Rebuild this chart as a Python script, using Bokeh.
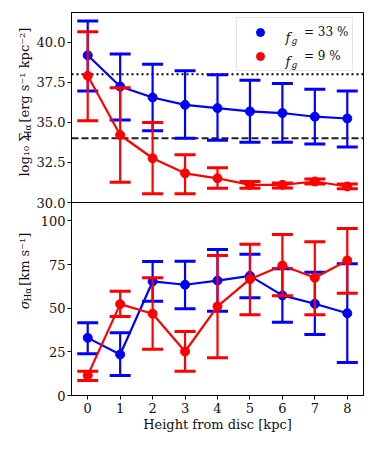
from math import pi
from bokeh.plotting import figure
from bokeh.layouts import row
from bokeh.core.properties import value
from bokeh.models import (Range1d, FixedTicker, Span, Legend, LegendItem, Label,
                          CustomJSTickFormatter)
from bokeh.embed import file_html
from bokeh.resources import INLINE

# ---------------- data ----------------
heights = [0, 1, 2, 3, 4, 5, 6, 7, 8]

# log10 Sigma_Halpha  (top panel)
sb_33 = [39.18, 37.23, 36.55, 36.09, 35.89, 35.68, 35.58, 35.35, 35.24]
sb_33_hi = [41.32, 39.26, 38.62, 38.21, 37.96, 37.63, 37.42, 37.07, 36.96]
sb_33_lo = [36.96, 35.14, 34.48, 34.00, 33.88, 33.75, 33.75, 33.65, 33.46]
sb_9 = [37.90, 34.21, 32.76, 31.82, 31.51, 31.10, 31.10, 31.31, 31.00]
sb_9_hi = [40.65, 37.15, 34.99, 32.98, 32.16, 31.31, 31.22, 31.47, 31.16]
sb_9_lo = [35.10, 31.26, 30.54, 30.54, 30.89, 30.89, 30.91, 31.16, 30.85]

# sigma_Halpha  (bottom panel)
sig_33 = [33.0, 23.5, 65.3, 63.4, 65.8, 68.5, 57.3, 52.5, 47.1]
sig_33_hi = [41.6, 35.9, 76.7, 76.9, 83.6, 80.9, 72.5, 70.6, 75.4]
sig_33_lo = [23.9, 11.5, 54.0, 49.6, 48.3, 55.9, 42.0, 34.9, 18.9]
sig_9 = [11.5, 52.3, 46.8, 25.2, 51.0, 66.6, 74.4, 67.4, 77.3]
sig_9_hi = [13.9, 59.7, 67.4, 36.6, 80.2, 86.6, 92.2, 88.0, 95.6]
sig_9_lo = [8.6, 45.2, 26.5, 13.9, 21.6, 46.2, 57.1, 46.2, 58.6]

sb_ticks = [30.0, 32.5, 35.0, 37.5, 40.0]
sig_ticks = [0, 25, 50, 75, 100]
ref_dashed = 34.0
ref_dotted = 38.0

labels = ["= 33 %", "= 9 %"]
colors = ["#0000ff", "#ff0000"]

# ---------------- geometry ----------------
H = 440
LAB_W = 33
W = 368 - LAB_W
FRAME_TOP = 12
FRAME_H = 383
BOT_PX = 193
frac_bot = BOT_PX / FRAME_H
bot_lim = (0.0, 110.5)
top_lim = (30.0, 41.85)
prim_end = bot_lim[1] / frac_bot
top_start = top_lim[0] - (top_lim[1] - top_lim[0]) * frac_bot / (1 - frac_bot)
scale = (prim_end - bot_lim[1]) / (top_lim[1] - top_lim[0])

FONT = "DejaVu Serif"
FS = "13px"
TXT = "#111111"

p = figure(width=W, height=H, output_backend="svg", toolbar_location=None, title=None,
           x_range=Range1d(-0.5, 8.5), y_range=Range1d(0, prim_end),
           min_border_left=69 - LAB_W, min_border_right=5, min_border_top=FRAME_TOP,
           min_border_bottom=H - FRAME_TOP - FRAME_H)
p.extra_y_ranges = {"top": Range1d(top_start, top_lim[1])}
p.xgrid.visible = False
p.ygrid.visible = False
p.outline_line_color = "black"
p.outline_line_width = 1
p.background_fill_color = "white"
p.border_fill_color = "white"

# divider between the two panels
p.add_layout(Span(location=bot_lim[1], dimension="width", line_color="black", line_width=1))

# reference lines in the top panel
p.add_layout(Span(location=ref_dotted, dimension="width", y_range_name="top",
                  line_color="black", line_width=2, line_dash="2 3", level="underlay"))
p.add_layout(Span(location=ref_dashed, dimension="width", y_range_name="top",
                  line_color="#222222", line_width=2, line_dash="7 3", level="underlay"))


def series(x, y, lo, hi, color, rng=None):
    kw = {} if rng is None else {"y_range_name": rng}
    p.segment(x0=x, y0=lo, x1=x, y1=hi, line_color=color, line_width=2.2, **kw)
    p.scatter(x, hi, marker="dash", size=21, line_color=color, line_width=3, **kw)
    p.scatter(x, lo, marker="dash", size=21, line_color=color, line_width=3, **kw)
    p.line(x, y, line_color=color, line_width=2.2, **kw)
    return p.scatter(x, y, marker="circle", size=9, fill_color=color, line_color=color, **kw)


r_top = []
for y, lo, hi, c in [(sb_33, sb_33_lo, sb_33_hi, colors[0]), (sb_9, sb_9_lo, sb_9_hi, colors[1])]:
    r_top.append(series(heights, y, lo, hi, c, "top"))
for y, lo, hi, c in [(sig_33, sig_33_lo, sig_33_hi, colors[0]), (sig_9, sig_9_lo, sig_9_hi, colors[1])]:
    series(heights, y, lo, hi, c)

# ---------------- axes ----------------
p.xaxis.ticker = FixedTicker(ticks=heights)
p.xaxis.axis_label = "Height from disc [kpc]"
top_pos = [bot_lim[1] + (v - top_lim[0]) * scale for v in sb_ticks]
p.yaxis.ticker = FixedTicker(ticks=list(sig_ticks) + top_pos)
p.yaxis.formatter = CustomJSTickFormatter(
    args=dict(split=bot_lim[1], t0=top_lim[0], k=1.0 / scale),
    code="""
    if (tick >= split - 1e-6) { return (t0 + (tick - split) * k).toFixed(1); }
    return tick.toFixed(0);
    """)
for ax in (p.xaxis[0], p.yaxis[0]):
    ax.major_label_text_font = FONT
    ax.major_label_text_font_size = FS
    ax.major_label_text_color = TXT
    ax.axis_label_text_font = FONT
    ax.axis_label_text_font_size = FS
    ax.axis_label_text_font_style = "normal"
    ax.axis_label_text_color = TXT
    ax.major_tick_in = 0
    ax.major_tick_out = 4
    ax.minor_tick_line_color = None
    ax.major_tick_line_color = "black"
    ax.axis_line_color = "black"
    ax.major_label_standoff = 2
p.xaxis.major_label_standoff = 3
p.xaxis.axis_label_standoff = 1

# ---------------- legend ----------------
legend = Legend(items=[LegendItem(label=labels[0], renderers=[r_top[0]]),
                       LegendItem(label=labels[1], renderers=[r_top[1]])],
                location=(165, FRAME_H - 59),
                padding=4, spacing=4, margin=0,
                glyph_width=38, glyph_height=20, label_height=20,
                label_standoff=25, label_width=40,
                label_text_font=FONT, label_text_font_size="12px", label_text_color=TXT,
                border_line_color="#cccccc", border_line_width=1,
                background_fill_color=None)
p.add_layout(legend)

for yb in [FRAME_H - 25, FRAME_H - 49]:
    p.add_layout(Label(x=214, y=yb, x_units="screen", y_units="screen", text="f",
                       text_font=FONT, text_font_size=FS, text_font_style="italic",
                       text_baseline="alphabetic", text_color=TXT, level="overlay"))
    p.add_layout(Label(x=220, y=yb - 3, x_units="screen", y_units="screen", text="g",
                       text_font=FONT, text_font_size="9px", text_font_style="italic",
                       text_baseline="alphabetic", text_color=TXT, level="overlay"))

# ---------------- rotated y-axis titles (separate narrow strip) ----------------
lab = figure(width=LAB_W, height=H, output_backend="svg", toolbar_location=None, title=None,
             x_range=Range1d(0, LAB_W), y_range=Range1d(0, H),
             x_axis_type=None, y_axis_type=None, min_border=0)
lab.outline_line_color = None
lab.border_fill_color = "white"
lab.background_fill_color = "white"

XB = 24  # baseline position of the rotated text


def ylabel(pieces, center_page_y):
    total = sum(pc[4] for pc in pieces)
    y = H - (center_page_y + total / 2.0)
    for text, size, dx, style, length in pieces:
        lab.text(x=[XB + dx], y=[y], text=[text], angle=pi / 2,
                 text_font=value(FONT), text_font_size=value(size),
                 text_font_style=style, text_align="left",
                 text_baseline="alphabetic", text_color=TXT)
        y += length


ylabel([("log₁₀ Σ", "13px", 0, "normal", 44),
        ("Hα", "9px", 3, "normal", 18),
        ("[erg s⁻¹ kpc⁻²]", "13px", 0, "normal", 101)],
       FRAME_TOP + (FRAME_H - BOT_PX) / 2.0)
ylabel([("σ", "13px", 0, "italic", 9),
        ("Hα", "9px", 3, "normal", 18),
        ("[km s⁻¹]", "13px", 0, "normal", 58)],
       FRAME_TOP + FRAME_H - BOT_PX / 2.0)

layout = row(lab, p)
open("out.html", "w").write(file_html(layout, INLINE))
